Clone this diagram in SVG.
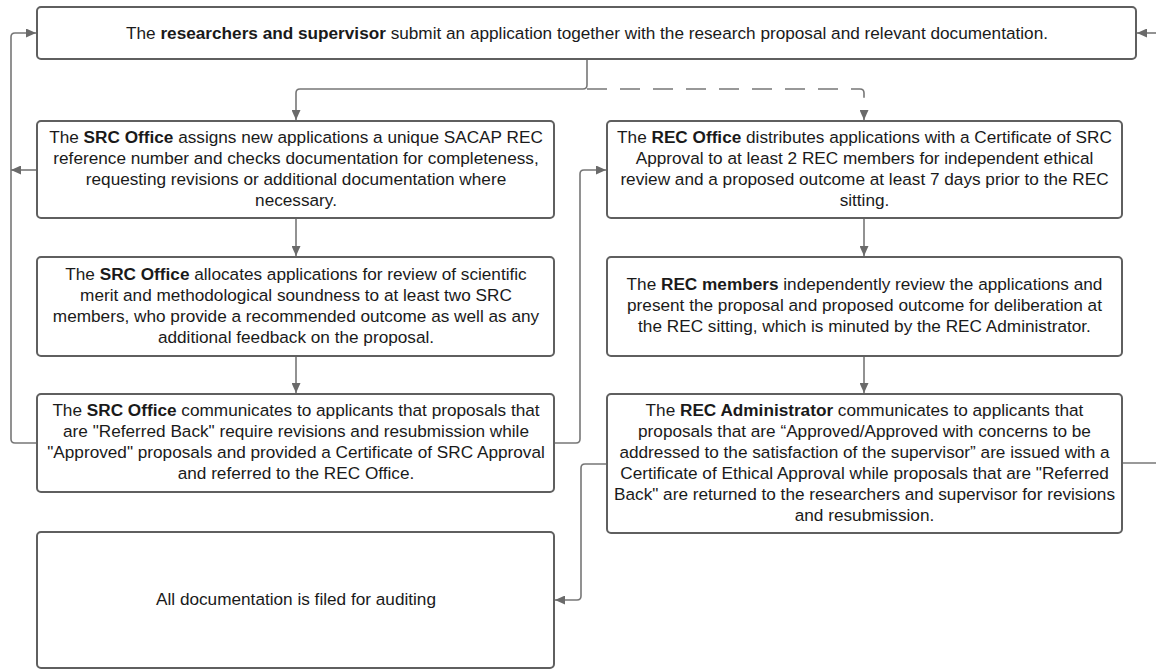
<svg xmlns="http://www.w3.org/2000/svg" width="1156" height="671" viewBox="0 0 1156 671">
<style>
.box{fill:#ffffff;stroke:#5f5f5f;stroke-width:2}
.t{font-family:"Liberation Sans",Arial,sans-serif;font-size:17.2px;fill:#1a1a1a;text-anchor:middle}
.b{font-weight:bold}
.c{fill:none;stroke:#777777;stroke-width:1.6}
.d{stroke-dasharray:20 13}
</style>
<defs>
<marker id="ah" markerUnits="userSpaceOnUse" markerWidth="11" markerHeight="9" refX="10" refY="4.5" orient="auto">
<path d="M0,0 L10,4.5 L0,9 z" fill="#6a6a6a"/>
</marker>
</defs>
<rect width="1156" height="671" fill="#ffffff"/>
<g id="connectors">
<path class="c" d="M587,59 V85 Q587,89 583,89 H300 Q296,89 296,93 V120" marker-end="url(#ah)"/>
<path class="c d" d="M587,89 H860 Q864,89 864,93 V120" marker-end="url(#ah)"/>
<path class="c" d="M296,218 V256" marker-end="url(#ah)"/>
<path class="c" d="M296,356 V393" marker-end="url(#ah)"/>
<path class="c" d="M864,218 V256" marker-end="url(#ah)"/>
<path class="c" d="M864,356 V393" marker-end="url(#ah)"/>
<path class="c" d="M554,443 H576 Q580,443 580,439 V174 Q580,170 584,170 H606" marker-end="url(#ah)"/>
<path class="c" d="M607,464 H585 Q581,464 581,468 V596 Q581,600 577,600 H555" marker-end="url(#ah)"/>
<path class="c" d="M37,443 H15 Q11,443 11,439 V37 Q11,33 15,33 H36" marker-end="url(#ah)"/>
<path class="c" d="M37,170 H11" marker-end="url(#ah)"/>
<path class="c" d="M1122,463 H1156"/>
<path class="c" d="M1156,33 H1137" marker-end="url(#ah)"/>
</g>
<g id="n-submit">
<rect class="box" x="37" y="7" width="1099" height="52" rx="4"/>
<text class="t" x="587" y="38.5">The <tspan class="b">researchers and supervisor</tspan> submit an application together with the research proposal and relevant documentation.</text>
</g>
<g id="n-src1">
<rect class="box" x="37" y="121" width="517" height="97" rx="4"/>
<text class="t"><tspan x="296" y="143">The <tspan class="b">SRC Office</tspan> assigns new applications a unique SACAP REC</tspan><tspan x="296" y="164">reference number and checks documentation for completeness,</tspan><tspan x="296" y="185">requesting revisions or additional documentation where</tspan><tspan x="296" y="206">necessary.</tspan></text>
</g>
<g id="n-src2">
<rect class="box" x="37" y="257" width="517" height="99" rx="4"/>
<text class="t"><tspan x="296" y="279.5">The <tspan class="b">SRC Office</tspan> allocates applications for review of scientific</tspan><tspan x="296" y="300.5">merit and methodological soundness to at least two SRC</tspan><tspan x="296" y="321.5">members, who provide a recommended outcome as well as any</tspan><tspan x="296" y="342.5">additional feedback on the proposal.</tspan></text>
</g>
<g id="n-src3">
<rect class="box" x="37" y="394" width="517" height="98" rx="4"/>
<text class="t"><tspan x="296" y="415.5">The <tspan class="b">SRC Office</tspan> communicates to applicants that proposals that</tspan><tspan x="296" y="436.5">are "Referred Back" require revisions and resubmission while</tspan><tspan x="296" y="457.5">"Approved" proposals and provided a Certificate of SRC Approval</tspan><tspan x="296" y="478.5">and referred to the REC Office.</tspan></text>
</g>
<g id="n-final">
<rect class="box" x="37" y="532" width="517" height="136" rx="4"/>
<text class="t" x="296" y="605">All documentation is filed for auditing</text>
</g>
<g id="n-rec1">
<rect class="box" x="607" y="121" width="515" height="97" rx="4"/>
<text class="t"><tspan x="864.5" y="143">The <tspan class="b">REC Office</tspan> distributes applications with a Certificate of SRC</tspan><tspan x="864.5" y="164">Approval to at least 2 REC members for independent ethical</tspan><tspan x="864.5" y="185">review and a proposed outcome at least 7 days prior to the REC</tspan><tspan x="864.5" y="206">sitting.</tspan></text>
</g>
<g id="n-rec2">
<rect class="box" x="607" y="257" width="515" height="99" rx="4"/>
<text class="t"><tspan x="864.5" y="290">The <tspan class="b">REC members</tspan> independently review the applications and</tspan><tspan x="864.5" y="311">present the proposal and proposed outcome for deliberation at</tspan><tspan x="864.5" y="332">the REC sitting, which is minuted by the REC Administrator.</tspan></text>
</g>
<g id="n-rec3">
<rect class="box" x="607" y="394" width="515" height="139" rx="4"/>
<text class="t"><tspan x="864.5" y="416">The <tspan class="b">REC Administrator</tspan> communicates to applicants that</tspan><tspan x="864.5" y="437">proposals that are “Approved/Approved with concerns to be</tspan><tspan x="864.5" y="458">addressed to the satisfaction of the supervisor” are issued with a</tspan><tspan x="864.5" y="479">Certificate of Ethical Approval while proposals that are "Referred</tspan><tspan x="864.5" y="500">Back" are returned to the researchers and supervisor for revisions</tspan><tspan x="864.5" y="521">and resubmission.</tspan></text>
</g>
</svg>
